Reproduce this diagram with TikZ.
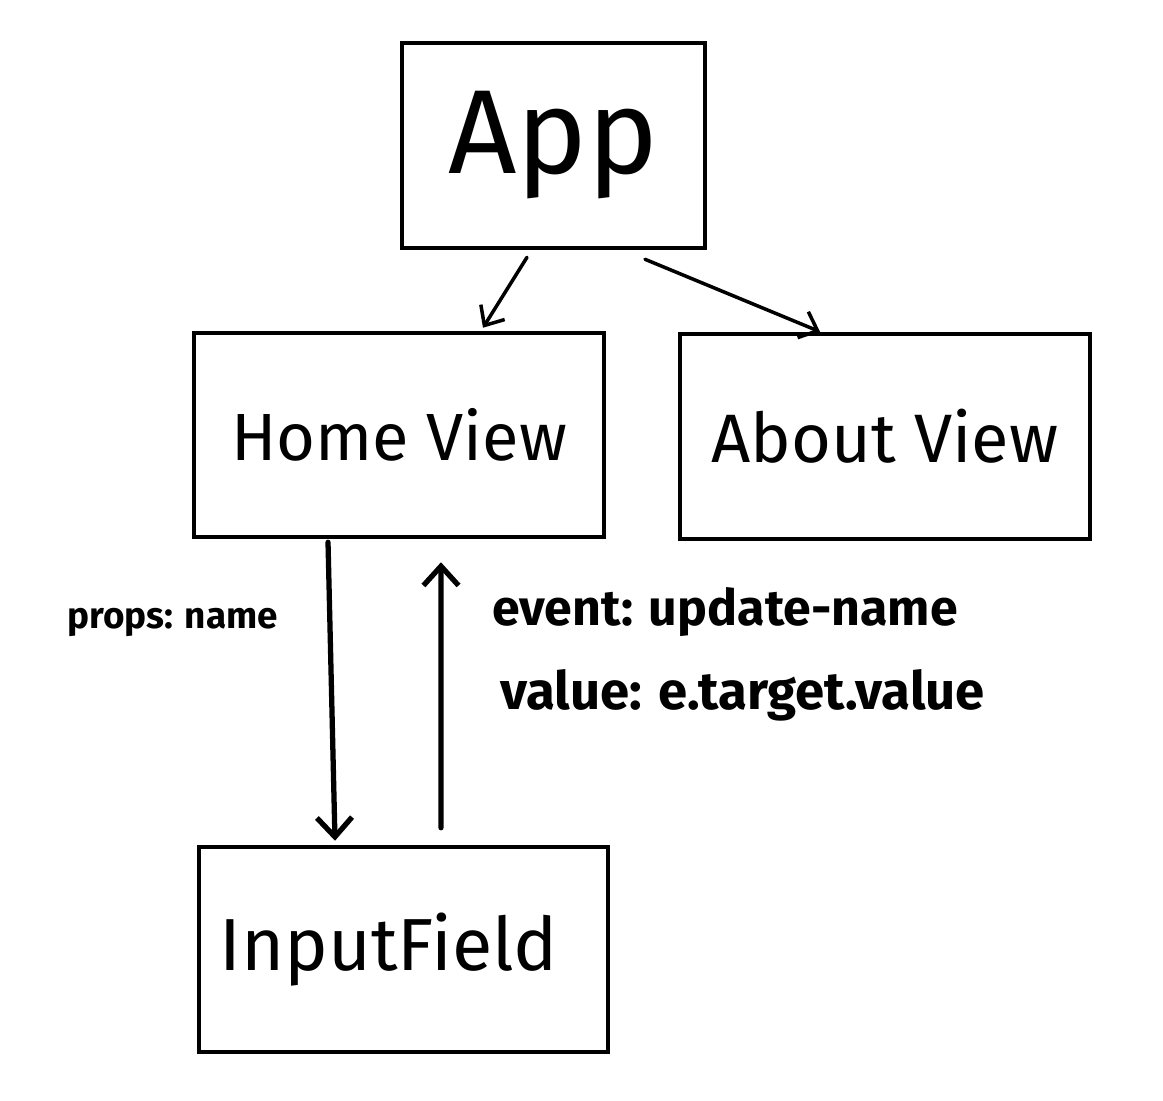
\documentclass[tikz,border=0pt]{standalone}
\usepackage{fontspec}
\setmainfont{Fira Sans}
\usetikzlibrary{arrows.meta,positioning}
\tikzset{
  box/.style={draw, line width=2.6pt, inner sep=0pt},
  link/.style={line width=2pt, line cap=round, -{Straight Barb[length=9pt,width=16pt]}},
  flow/.style={line width=3pt, line cap=round, -{Straight Barb[length=11pt,width=20pt]}},
  lbl/.style={font=\bfseries\fontsize{21}{25}\selectfont, anchor=west, inner sep=0pt}
}
\begin{document}
\begin{tikzpicture}[x=0.02cm,y=-0.02cm]
  \useasboundingbox (0,0) rectangle (1163,1100);
  % components
  \node[box, minimum width=6.06cm, minimum height=4.1cm, font=\fontsize{68}{80}\selectfont] (app) at (553.5,145.5) {App};
  \node[box, minimum width=8.2cm, minimum height=4.08cm, font=\fontsize{38}{46}\selectfont] (home) at (399,435) {Home View};
  \node[box, minimum width=8.2cm, minimum height=4.1cm, font=\fontsize{39}{46}\selectfont] (about) at (885,436.5) {About View};
  \node[box, minimum width=8.18cm, minimum height=4.1cm, font=\fontsize{42}{48}\selectfont] (input) at (403.5,949.5) {InputField\kern0.6cm};
  % routes
  \draw[link] ([xshift=-0.53cm,yshift=-0.14cm]app.south) -- ([xshift=1.68cm,yshift=0.06cm]home.north);
  \draw[link] ([xshift=1.83cm,yshift=-0.18cm]app.south) -- ([xshift=-1.3cm]about.north);
  % props down, event up
  \draw[flow] ([xshift=-1.42cm,yshift=-0.06cm]home.south) -- ([xshift=-1.37cm,yshift=0.08cm]input.north);
  \draw[flow] ([xshift=0.75cm,yshift=0.34cm]input.north) -- ([xshift=0.84cm,yshift=-0.46cm]home.south);
  \node[lbl] (props) at (67,622) {props: name};
  \node[lbl, font=\bfseries\fontsize{28.5}{33}\selectfont] (event) at (492,612) {event: update-name};
  \node[lbl, font=\bfseries\fontsize{30}{35}\selectfont] (value) at (500,695) {value: e.target.value};
\end{tikzpicture}
\end{document}
